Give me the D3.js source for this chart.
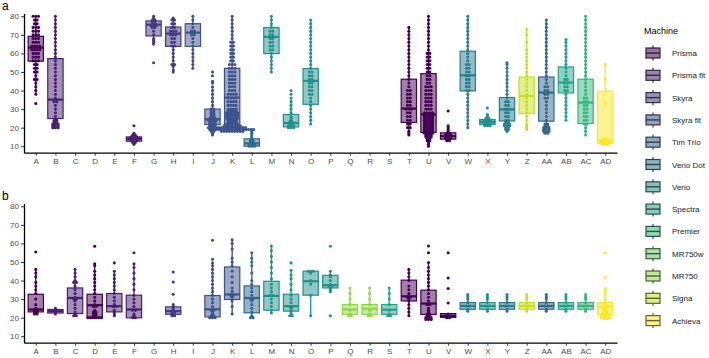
<!DOCTYPE html>
<html><head><meta charset="utf-8">
<script src="https://cdn.jsdelivr.net/npm/d3@7"></script>
<style>body{margin:0;background:#fff}svg{display:block;font-family:"Liberation Sans",Arial,sans-serif}.tick text{fill:#4d4d4d}</style>
</head><body><svg id="c" width="709" height="358"></svg>
<script>
const cats = ['A','B','C','D','E','F','G','H','I','J','K','L','M','N','O','P','Q','R','S','T','U','V','W','X','Y','Z','AA','AB','AC','AD'];
const machines = ['Prisma','Prisma fit','Skyra','Skyra fit','Tim Trio','Verio Dot','Verio','Spectra','Premier','MR750w','MR750','Signa','Achieva'];
const catMachine = ['Prisma','Prisma fit','Prisma fit','Prisma','Prisma fit','Prisma fit','Skyra','Skyra','Skyra fit','Skyra fit','Skyra fit','Tim Trio','Verio','Verio','Verio','Verio','MR750','MR750','Spectra','Prisma','Prisma','Prisma','Verio Dot','Verio','Verio Dot','Signa','Tim Trio','Spectra','Premier','Achieva'];
const yTicks = [10,20,30,40,50,60,70,80];

// [category, lower whisker, q1, median, q3, upper whisker]
const boxA = [
 ['A',38,55.8,63.1,69.2,80],['B',20,24.9,35.1,57.2,80],['F',11,12.7,14,15,17],
 ['G',65,69.4,75.5,77.5,80],['H',50,63.8,70.7,74.2,79],['I',52,63.8,71.2,76,80],
 ['J',16,21.7,24.5,30,42],['K',18,19,36.2,52,80],['L',9.5,10,11.5,14,19],
 ['M',50,59.9,68.9,73.9,80],['N',20,20.4,22.5,27.1,36],['O',22,32.6,45.2,51.8,78],
 ['T',16,22.8,30.3,46.1,74],['U',10.5,17.4,27.1,49.1,80],['V',13,13.8,15.4,17.2,21],
 ['W',20,39.8,48.2,61.2,80],['X',21,21.7,23.1,24.4,27],['Y',17.7,23.6,29.8,36.2,55.4],
 ['Z',19.2,27.6,37.1,47.3,73.4],['AA',17.4,23.5,38.9,47.3,78.4],['AB',24.4,38.7,44.3,52.7,67.5],
 ['AC',15.9,22.2,33.5,46.1,80],['AD',11,11.4,13.2,39.6,54]
];
const boxB = [
 ['A',22,23.1,24.4,32.6,46],['B',22,22.5,23.5,24.4,25],['C',21,22.2,30.6,36,46],
 ['D',20,20.1,26.7,32.6,49],['E',21,23.1,26.2,33,45],['F',20,19.9,24.4,32.1,49],
 ['H',21,21.8,23.5,25.8,27],['J',20,20.4,24.5,31.9,49.5],['K',22,29.8,32.5,47.3,62],
 ['L',20,22.6,30.6,37.1,55],['M',22.5,24,31.7,39.6,58.6],['N',21,23.5,26.2,32.6,45.5],
 ['O',21,32.1,39.6,45,45.5],['P',34,36,37.5,42.8,45.2],['Q',21,21.8,24.4,27.1,36],
 ['R',21,21.8,24.8,27.1,36],['S',21,21.8,24.3,27.1,36],['T',21,29,31.5,40.2,46],
 ['U',19,21.7,27.6,34.8,49.7],['V',20,20.1,21,22.2,22.5],['W',23.5,24.5,26.3,28.1,32.5],
 ['X',23.5,24.5,26.3,28.1,32.5],['Y',23.5,24.5,26.3,28.1,32.5],['Z',23.5,24.5,26.3,28.1,32.5],
 ['AA',23.5,24.5,26.3,28.1,32.5],['AB',23.5,24.5,26.3,28.1,32.5],['AC',23.5,24.5,26.3,28.1,32.5],
 ['AD',19.5,21.7,26,28.1,35.7]
];

// points: [value, number of dots at that value]
const ptsA = {
 A:[[33,1],[38,1],[40,1],[42,1],[44,1],[46,2],[48,1],[50,2],[52,2],[54,2],[56,3],[58,3],[60,3],[62,4],[64,4],[66,3],[68,3],[70,3],[72,3],[74,3],[76,2],[78,2],[80,3]],
 B:[[20,3],[21,3],[22,3],[23,2],[24,2],[26,1],[28,1],[30,1],[32,1],[34,2],[36,1],[38,1],[40,1],[42,1],[44,1],[46,1],[48,1],[50,1],[52,1],[54,1],[56,1],[58,1],[60,1],[62,1],[64,1],[66,1],[68,1],[70,1],[72,1],[74,1],[76,1],[78,1],[80,1]],
 F:[[11,1],[12,2],[13,3],[14,5],[15,3],[16,2],[17,1],[21,1]],
 G:[[55,1],[65,1],[66,1],[67,1],[68,1],[70,1],[72,1],[74,2],[75,3],[76,2],[77,2],[78,2],[79,1],[80,1]],
 H:[[50,1],[51,1],[53,1],[54,2],[56,1],[58,1],[60,1],[62,1],[64,2],[66,2],[68,2],[70,3],[72,3],[74,2],[76,2],[78,2],[79,1]],
 I:[[52,1],[54,1],[56,1],[58,1],[60,1],[62,1],[64,1],[66,1],[68,1],[70,2],[72,2],[74,1],[76,1],[78,1],[80,1]],
 J:[[16,1],[17,1],[18,2],[19,3],[20,4],[21,3],[22,3],[23,3],[24,4],[25,3],[26,2],[27,2],[28,2],[29,2],[30,2],[32,1],[34,1],[36,1],[38,1],[40,1],[42,1],[44,1],[45,1],[48,1],[50,1]],
 K:[[18,9],[19,17],[20,11],[21,7],[22,5],[23,4],[24,4],[25,5],[26,5],[27,5],[28,5],[29,4],[30,4],[32,4],[34,4],[36,4],[38,4],[40,3],[42,3],[44,3],[46,3],[48,3],[50,3],[52,3],[54,3],[56,2],[58,2],[60,2],[62,2],[64,2],[66,2],[68,1],[70,1],[72,1],[74,1],[76,1],[78,1],[80,1]],
 L:[[10,3],[11,3],[12,2],[13,2],[14,1],[15,1],[16,1],[17,1],[18,1],[19,1]],
 M:[[50,1],[52,1],[54,1],[56,1],[58,1],[60,1],[62,2],[64,2],[66,2],[68,2],[70,2],[72,2],[74,1],[76,1],[78,1],[80,1]],
 N:[[20,3],[21,3],[22,2],[23,2],[24,1],[25,1],[26,1],[28,1],[30,1],[32,1],[34,1],[36,1],[38,1],[40,1]],
 O:[[22,1],[24,1],[26,1],[28,1],[30,1],[32,1],[34,1],[36,1],[38,2],[40,2],[42,2],[44,2],[46,2],[48,2],[50,2],[52,1],[54,1],[56,1],[58,1],[60,1],[62,1],[64,1],[66,1],[68,1],[70,1],[72,1],[74,1],[76,1],[78,1]],
 T:[[16,1],[17,1],[18,1],[20,2],[22,2],[24,2],[26,2],[28,2],[30,3],[32,2],[34,2],[36,2],[38,2],[40,2],[42,1],[44,1],[46,1],[48,1],[50,1],[52,1],[54,1],[56,1],[58,1],[60,1],[62,1],[64,1],[66,1],[68,1],[70,1],[72,1],[74,1]],
 U:[[10,1],[11,1],[12,1],[13,2],[14,2],[15,3],[16,3],[17,4],[18,4],[19,4],[20,4],[21,4],[22,4],[23,4],[24,4],[25,4],[26,4],[27,4],[28,4],[30,3],[32,3],[34,3],[36,3],[38,3],[40,3],[42,3],[44,2],[46,2],[48,2],[50,2],[52,2],[54,2],[56,2],[58,2],[60,2],[62,1],[64,1],[66,1],[68,1],[70,1],[72,1],[74,1],[76,1],[78,1],[80,1]],
 V:[[13,2],[14,3],[15,3],[16,3],[17,2],[18,1],[19,1],[20,1],[21,1],[29,1]],
 W:[[20,1],[22,1],[24,1],[26,1],[28,1],[30,1],[32,1],[34,1],[36,1],[38,1],[40,2],[42,2],[44,2],[46,2],[48,2],[50,2],[52,2],[54,2],[56,1],[58,1],[60,1],[62,1],[64,1],[66,1],[68,1],[70,1],[72,1],[74,1],[76,1],[78,1],[80,1]],
 X:[[21,3],[22,3],[23,6],[24,3],[25,2],[26,1],[27,1],[30.6,1]],
 Y:[[18,1],[19,2],[20,2],[21,3],[22,3],[23,2],[24,2],[26,2],[28,2],[30,2],[32,2],[34,2],[36,1],[38,1],[40,1],[42,1],[44,1],[46,1],[48,1],[50,1],[52,1],[54,1],[55,1]],
 Z:[[19,1],[20,1],[21,1],[22,1],[24,1],[26,1],[28,1],[30,1],[32,1],[34,1],[36,1],[38,1],[40,1],[42,1],[44,1],[46,1],[48,1],[50,1],[52,1],[54,1],[56,1],[58,1],[60,1],[62,1],[66,1],[70,1],[73,1]],
 AA:[[17,2],[18,3],[19,3],[20,3],[21,2],[22,2],[24,1],[26,1],[28,1],[30,1],[32,1],[34,1],[36,2],[38,2],[40,2],[42,2],[44,1],[46,1],[48,1],[50,1],[52,1],[54,1],[56,1],[58,1],[60,1],[62,1],[64,1],[66,1],[68,1],[70,1],[72,1],[74,1],[76,1],[78,1]],
 AB:[[24,1],[26,1],[28,1],[30,1],[32,1],[34,1],[36,1],[38,1],[40,2],[42,2],[44,2],[46,2],[48,1],[50,1],[52,1],[54,1],[56,1],[58,1],[60,1],[62,1],[64,1],[66,1],[67.5,1]],
 AC:[[16,1],[18,1],[20,1],[22,2],[24,2],[26,2],[28,2],[30,2],[32,2],[34,2],[36,2],[38,1],[40,1],[42,1],[44,1],[46,1],[48,1],[50,1],[52,1],[54,1],[56,1],[58,1],[60,1],[62,1],[64,1],[66,1],[68,1],[70,1],[72,1],[74,1],[76,1],[78,1],[80,1]],
 AD:[[11,3],[12,4],[13,4],[14,2],[33,1],[40,1],[46,1],[54,1]]
};
const ptsB = {
 A:[[22,2],[23,2],[24,2],[25,1],[27,1],[30,1],[33,1],[35,1],[37,1],[39,1],[42,1],[44,1],[46,1],[55.4,1]],
 B:[[22,1],[23,1],[24,1],[25,1]],
 C:[[21,2],[22,1],[23,1],[25,1],[27,1],[29,1],[30,2],[31,1],[33,1],[35,1],[37,1],[39,2],[40,1],[42,1],[44,1],[46,1]],
 D:[[20,6],[21,2],[22,2],[23,2],[24,1],[26,2],[27,1],[29,1],[31,1],[33,1],[35,1],[37,1],[39,1],[41,1],[43,1],[45,1],[48,1],[49,1],[58.5,1]],
 E:[[21,1],[22,1],[23,1],[24,1],[26,2],[27,1],[29,1],[31,1],[33,1],[35,1],[37,1],[39,1],[41,1],[43,1],[45,1],[49.5,1]],
 F:[[20,2],[21,1],[22,1],[24,2],[26,1],[28,1],[30,1],[32,1],[35,1],[38,1],[41,1],[44,1],[47,1],[49,1],[55,1]],
 H:[[21,2],[22,2],[23,2],[24,1],[25,1],[26,1],[27,1],[32.6,1],[39.2,1],[44.6,1]],
 J:[[20,3],[21,2],[22,1],[23,1],[24,2],[26,1],[28,1],[30,1],[32,1],[34,1],[36,1],[38,1],[40,1],[42,1],[44,1],[46,1],[48,1],[49.5,1],[51.5,1],[61.7,1]],
 K:[[22,1],[26,1],[29,1],[31,1],[32,2],[34,1],[36,1],[39,1],[42,1],[45,1],[48,1],[50,1],[52,1],[57,1],[60,1],[62,1]],
 L:[[20,2],[21,1],[23,1],[25,1],[27,1],[29,1],[30,2],[32,1],[34,1],[36,1],[38,1],[40,1],[44,1],[48,1],[50,1],[52,1],[55,1]],
 M:[[22.5,1],[24,1],[26,1],[28,1],[30,1],[32,2],[34,1],[36,1],[38,1],[41,1],[44,1],[47,1],[50,1],[53,1],[56,1],[58.6,1]],
 N:[[21,2],[22,1],[23,1],[24,1],[25,1],[26,2],[28,1],[30,1],[32,1],[35,1],[38,1],[41,1],[43,1],[45.5,1],[49.5,1]],
 O:[[21,1],[32,1],[38,1],[40,1],[44,1],[45,3]],
 P:[[21,1],[34,1],[35,1],[36,1],[37,2],[38,1],[40,1],[42,1],[43,1],[45,1],[58.5,1]],
 Q:[[21,2],[22,1],[24,1],[27,1],[30,1],[33,1],[36,1]],
 R:[[21,2],[22,1],[24,1],[27,1],[30,1],[33,1],[36,1]],
 S:[[21,2],[22,1],[24,1],[27,1],[30,1],[33,1],[36,1]],
 T:[[21,1],[23,1],[25,1],[27,1],[29,1],[30,1],[31,2],[33,1],[35,1],[37,1],[40,1],[42,1],[44,1],[46,1]],
 U:[[19,3],[20,3],[21,2],[22,2],[23,1],[24,1],[25,1],[27,2],[29,1],[31,1],[33,1],[35,1],[37,1],[39,1],[41,1],[43,1],[45,1],[47,1],[49.7,1],[55,1],[58.6,1]],
 V:[[20,2],[21,3],[22,1],[27.9,1],[35.7,1],[41.4,1],[55,1]],
 W:[[23.5,1],[24.5,1],[26.3,2],[28.1,1],[30,1],[31.2,1],[32.5,1]],
 X:[[23.5,1],[24.5,1],[26.3,2],[28.1,1],[30,1],[31.2,1],[32.5,1]],
 Y:[[23.5,1],[24.5,1],[26.3,2],[28.1,1],[30,1],[31.2,1],[32.5,1]],
 Z:[[23.5,1],[24.5,1],[26.3,2],[28.1,1],[30,1],[31.2,1],[32.5,1]],
 AA:[[23.5,1],[24.5,1],[26.3,2],[28.1,1],[30,1],[31.2,1],[32.5,1]],
 AB:[[23.5,1],[24.5,1],[26.3,2],[28.1,1],[30,1],[31.2,1],[32.5,1]],
 AC:[[23.5,1],[24.5,1],[26.3,2],[28.1,1],[30,1],[31.2,1],[32.5,1]],
 AD:[[19.5,2],[20,4],[21,4],[22,3],[23,2],[24,2],[25,2],[26,2],[27,1],[28,1],[30,1],[32,1],[34,1],[35.7,1],[41.6,1],[55,1]]
};

const svg = d3.select('#c');
const color = d3.scaleOrdinal().domain(machines).range(machines.map((m,i)=>d3.interpolateViridis(i/(machines.length-1))));
const catColor = c => color(catMachine[cats.indexOf(c)]);
const x = d3.scalePoint().domain(cats).range([24,617]).padding(0.6);
const bw = x.step()*0.78;

function panel(label, top, bottom, boxes, pts){
  const y = d3.scaleLinear().domain([6.5,81.5]).range([bottom, top]);
  const g = svg.append('g');
  boxes.forEach(([c,lo,q1,med,q3,hi])=>{
    const col = catColor(c), cx = x(c);
    g.append('line').attr('x1',cx).attr('x2',cx).attr('y1',y(q3)).attr('y2',y(hi)).attr('stroke',col).attr('stroke-width',1.3);
    g.append('line').attr('x1',cx).attr('x2',cx).attr('y1',y(q1)).attr('y2',y(lo)).attr('stroke',col).attr('stroke-width',1.3);
    g.append('rect').attr('x',cx-bw/2).attr('width',bw).attr('y',y(q3)).attr('height',Math.max(0.5,y(q1)-y(q3)))
      .attr('fill',col).attr('fill-opacity',0.5).attr('stroke',col).attr('stroke-width',1.2);
    g.append('line').attr('x1',cx-bw/2).attr('x2',cx+bw/2).attr('y1',y(med)).attr('y2',y(med)).attr('stroke',col).attr('stroke-width',2.2);
  });
  Object.keys(pts).forEach(c=>{
    const col = catColor(c), cx = x(c);
    pts[c].forEach(([v,n])=>{
      for(let k=0;k<n;k++){
        const off = (k-(n-1)/2)*2.7;
        g.append('circle').attr('cx',cx+off).attr('cy',y(v)).attr('r',1.55).attr('fill',col);
      }
    });
  });
  const ax = g.append('g').attr('transform',`translate(24,0)`).call(d3.axisLeft(y).tickValues(yTicks).tickSize(3).tickSizeOuter(0).tickPadding(2));
  const bx = g.append('g').attr('transform',`translate(0,${bottom})`).call(d3.axisBottom(x).tickSize(3).tickSizeOuter(0).tickPadding(3));
  [ax,bx].forEach(a=>{
    a.select('.domain').attr('stroke','#000').attr('stroke-width',1.3);
    a.selectAll('.tick line').attr('stroke','#333');
    a.selectAll('.tick text').attr('fill','#4d4d4d').style('fill','#4d4d4d').style('font-size','8px').style('font-family','"Liberation Sans",Arial,sans-serif');
  });
  svg.append('text').attr('x',2).attr('y',top-4).text(label).style('font-size','12px').attr('fill','#000');
}
panel('a', 13.5, 152.7, boxA, ptsA);
panel('b', 203.5, 342.7, boxB, ptsB);

const lg = svg.append('g');
lg.append('text').attr('x',644).attr('y',34).text('Machine').style('font-size','9px').attr('fill','#000');
machines.forEach((m,i)=>{
  const cy = 53 + i*22.3, col = color(m), dk = d3.interpolateRgb(col,'#2b2b2b')(0.7);
  const kx = 653;
  lg.append('line').attr('x1',kx).attr('x2',kx).attr('y1',cy-7.5).attr('y2',cy+7.5).attr('stroke',dk).attr('stroke-width',1.2);
  lg.append('rect').attr('x',kx-7).attr('y',cy-5).attr('width',14).attr('height',10).attr('fill','#fff');
  lg.append('rect').attr('x',kx-7).attr('y',cy-5).attr('width',14).attr('height',10).attr('fill',col).attr('fill-opacity',0.55).attr('stroke',dk).attr('stroke-width',1.2);
  lg.append('line').attr('x1',kx-7).attr('x2',kx+7).attr('y1',cy).attr('y2',cy).attr('stroke',dk).attr('stroke-width',1.4);
  lg.append('text').attr('x',672).attr('y',cy+3).text(m).style('font-size','8px').attr('fill','#1a1a1a');
});
</script></body></html>
